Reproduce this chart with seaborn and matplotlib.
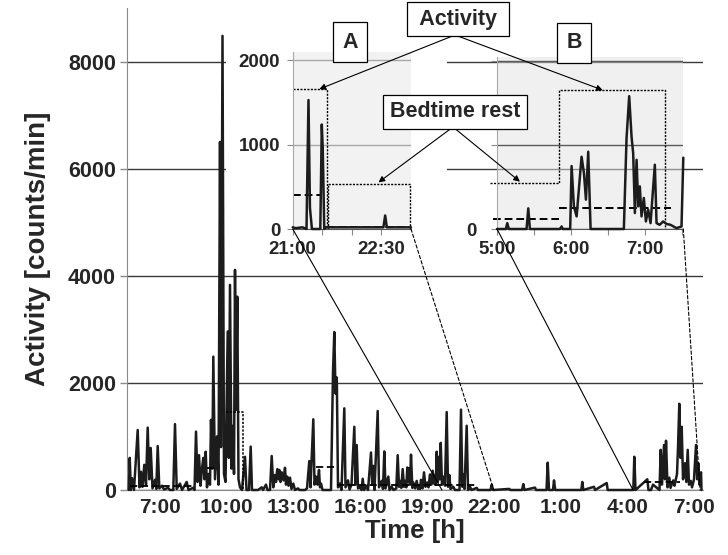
import numpy as np
import pandas as pd
import seaborn as sns
import matplotlib
matplotlib.use("Agg")
import matplotlib.pyplot as plt
from matplotlib.patches import ConnectionPatch, Rectangle

# ---------------- data ----------------
# main recording: time in hours after 7:00, activity in counts/min
main_t = [-1.40, -1.36, -1.31, -1.258, -1.169, -1.002, -0.921, -0.854, -0.787, -0.706, -0.629,
          -0.553, -0.481, -0.418, -0.337, -0.225, -0.166, -0.103, -0.031, 0.090, 0.180, 0.360,
          0.449, 0.598, 0.674, 0.751, 0.899, 0.989, 1.200, 1.281, 1.483, 1.551, 1.618, 1.685,
          1.753, 1.820, 1.888, 1.946, 2.000, 2.054, 2.112, 2.180, 2.247, 2.292, 2.351, 2.396,
          2.472, 2.562, 2.629, 2.697, 2.742, 2.809, 2.876, 2.944, 3.043, 3.092, 3.146, 3.213,
          3.281, 3.326, 3.371, 3.416, 3.474, 3.528, 3.596, 3.685, 3.820, 3.888, 4.000, 4.076,
          4.135, 4.404, 4.571, 4.629, 4.764, 4.831, 4.944, 5.020, 5.092, 5.169, 5.213, 5.272,
          5.317, 5.362, 5.416, 5.470, 5.551, 5.618, 5.663, 5.721, 5.775, 5.843, 5.910, 5.991,
          6.067, 6.202, 6.270, 6.517, 6.607, 6.710, 6.764, 6.890, 6.944, 7.011, 7.079, 7.146,
          7.191, 7.236, 7.303, 7.685, 7.775, 7.834, 7.888, 7.946, 8.000, 8.090, 8.157, 8.283,
          8.337, 8.449, 8.517, 8.607, 8.733, 8.787, 8.840, 8.899, 8.989, 9.056, 9.110, 9.169,
          9.290, 9.348, 9.483, 9.537, 9.587, 9.640, 9.784, 9.843, 9.964, 10.022, 10.081, 10.135,
          10.261, 10.315, 10.413, 10.494, 10.620, 10.683, 10.742, 10.787, 10.845, 10.908, 10.966,
          11.011, 11.070, 11.115, 11.160, 11.191, 11.236, 11.281, 11.339, 11.384, 11.461, 11.537,
          11.596, 11.640, 11.685, 11.730, 11.798, 11.865, 11.933, 12.013, 12.067, 12.135, 12.193,
          12.256, 12.315, 12.360, 12.396, 12.436, 12.485, 12.539, 12.575, 12.616, 12.674, 12.733,
          12.809, 12.885, 12.944, 13.002, 13.056, 13.182, 13.258, 13.461, 13.528, 13.587, 13.631,
          13.685, 13.784, 13.843, 13.933, 14.000, 14.234, 14.292, 14.854, 14.908, 14.966, 15.699,
          15.744, 16.270, 16.328, 16.382, 16.854, 16.899, 17.371, 17.425, 17.483, 17.663, 17.708,
          17.762, 18.935, 18.980, 19.025, 19.506, 19.551, 20.076, 20.121, 21.272, 21.317, 21.371,
          21.901, 21.955, 22.067, 22.157, 22.449, 22.503, 22.562, 22.652, 22.697, 22.742, 22.809,
          22.890, 22.944, 23.070, 23.124, 23.236, 23.281, 23.339, 23.393, 23.447, 23.506, 23.596,
          23.654, 23.717, 23.775, 23.852, 23.910, 24.000, 24.090, 24.144, 24.193, 24.247, 24.315,
          24.337]
main_v = [0, 600, 0, 220, 0, 1120, 50, 340, 60, 470, 100,
          1165, 200, 785, 30, 190, 20, 820, 30, 80, 10, 40,
          0, 0, 1230, 20, 120, 0, 150, 0, 40, 0, 1090, 150,
          650, 80, 400, 600, 200, 715, 50, 300, 100, 1310, 400, 2490,
          200, 1000, 100, 6500, 800, 8480, 300, 150, 2960, 600, 3830, 400,
          1200, 300, 4110, 1500, 3610, 200, 50, 0, 620, 0, 0, 810,
          0, 0, 50, 0, 100, 0, 0, 635, 50, 280, 150, 390,
          200, 375, 150, 330, 180, 415, 100, 250, 80, 230, 20, 120,
          0, 30, 0, 0, 30, 540, 50, 1320, 100, 250, 100, 375,
          50, 120, 0, 0, 2200, 2950, 1800, 2100, 50, 120, 0, 1525,
          50, 180, 10, 100, 1180, 100, 840, 30, 60, 0, 210, 0,
          80, 0, 700, 100, 450, 0, 1475, 50, 170, 20, 720, 30,
          250, 0, 60, 0, 30, 650, 60, 170, 40, 390, 60,
          170, 50, 420, 150, 400, 100, 660, 40, 140, 30, 170,
          20, 70, 20, 190, 30, 330, 60, 140, 50, 290, 100,
          360, 120, 280, 100, 715, 150, 620, 200, 880, 100, 250,
          80, 1455, 60, 280, 20, 60, 0, 0, 1500, 60, 290,
          20, 1200, 0, 60, 0, 40, 0, 0, 100, 0, 20,
          0, 0, 110, 0, 45, 0, 0, 510, 0, 0, 180,
          0, 0, 150, 0, 60, 0, 130, 0, 0, 620, 0,
          200, 0, 0, 100, 0, 750, 100, 840, 200, 920, 50,
          230, 40, 180, 80, 300, 800, 1610, 600, 1180, 200, 500,
          150, 750, 100, 170, 50, 200, 840, 200, 500, 100, 330,
          0]

main_xticks = [0, 3, 6, 9, 12, 15, 18, 21, 24]
main_xlabels = ["7:00", "10:00", "13:00", "16:00", "19:00", "22:00", "1:00", "4:00", "7:00"]
main_yticks = [0, 2000, 4000, 6000, 8000]

# inset A (21:00 - 23:00), clock hours
a_t = [21.0, 21.05, 21.1667, 21.2333, 21.2667, 21.2917, 21.325, 21.4667, 21.4917, 21.5083,
       21.5333, 21.5667, 21.8333, 22.1667, 22.5333, 22.5633, 22.5917, 22.8333, 23.0]
a_v = [20, 10, 20, 0, 1530, 250, 0, 0, 1240, 950, 0, 20, 20, 20, 20, 160, 20, 20, 20]
a_xticks = [21.0, 21.5, 22.0, 22.5]
a_xlabels = ["21:00", "", "", "22:30"]

# inset B (5:00 - 7:30), clock hours
b_t = [5.0, 5.12, 5.139, 5.16, 5.40, 5.423, 5.445, 5.85, 5.874, 5.89, 5.99, 6.009, 6.04, 6.077,
       6.144, 6.176, 6.203, 6.234, 6.266, 6.716, 6.752, 6.788, 6.82, 6.842, 6.865, 6.888, 6.91,
       6.932, 6.955, 6.986, 7.014, 7.045, 7.077, 7.135, 7.158, 7.2, 7.248, 7.293, 7.347, 7.428,
       7.496, 7.52]
b_v = [0, 0, 70, 0, 0, 246, 0, 0, 30, 0, 0, 750, 270, 150,
       861, 667, 350, 921, 0, 0, 1079, 1583, 1100, 903, 190, 825, 270,
       508, 150, 370, 90, 230, 70, 766, 70, 50, 90, 60, 50, 10,
       30, 850]
b_xticks = [5.0, 5.5, 6.0, 6.5, 7.0, 7.5]
b_xlabels = ["5:00", "", "6:00", "", "7:00", ""]

# bout / mean-level overlays (start, end, level)
main_means = [(-1.35, 1.44, 75), (2.11, 2.61, 410), (7.01, 7.95, 425), (7.95, 14.16, 100),
              (21.75, 23.37, 150)]
main_bout = (2.95, 3.73, 1450)
a_active_level, a_active_end = 1660, 21.575
a_rest_start, a_rest_end, a_rest_level = 21.603, 22.99, 533
a_means = [(21.0, 21.463, 400), (21.575, 22.99, 25)]
b_rest_start, b_switch, b_active_end = 4.905, 5.842, 7.27
b_rest_level, b_active_level = 544, 1655
b_means = [(4.94, 5.842, 119), (5.842, 7.36, 246)]

# ---------------- style ----------------
sns.set_style("white")
plt.rcParams['font.family'] = ['Liberation Sans', 'DejaVu Sans']
plt.rcParams['font.weight'] = 'bold'

W, H = 728, 555
fig = plt.figure(figsize=(W / 100, H / 100), dpi=100)


def fx(px):
    return px / W


def fy(py):
    return 1 - py / H


LINE = '#1c1c1c'
GRID = '#3a3a3a'
SPINE = '#8a8a8a'

# ---------------- main axes ----------------
ax = fig.add_axes([fx(127), fy(490), (703 - 127) / W, (490 - 8) / H])
df_main = pd.DataFrame({"t": main_t, "v": main_v})
sns.lineplot(data=df_main, x="t", y="v", ax=ax, sort=False, estimator=None,
             color=LINE, lw=1.8, clip_on=False, zorder=3)
ax.set_xlim(-1.483, 24.404)
ax.set_ylim(0, 9000)
ax.set_xticks(main_xticks)
ax.set_xticklabels(main_xlabels, fontsize=15, fontweight='bold')
ax.set_yticks(main_yticks)
ax.set_yticklabels([str(v) for v in main_yticks], fontsize=15.5, fontweight='bold')
ax.tick_params(axis='y', length=5, color=SPINE, width=1, pad=3, left=True)
ax.tick_params(axis='x', length=0, pad=6)
ax.yaxis.grid(True, color=GRID, lw=1.0)
ax.set_axisbelow(True)
for s in ['top', 'right']:
    ax.spines[s].set_visible(False)
ax.spines['left'].set_color(SPINE)
ax.spines['bottom'].set_color(SPINE)
ax.set_xlabel("Time [h]", fontsize=18.5, fontweight='bold', labelpad=1)
ax.set_ylabel("Activity [counts/min]", fontsize=20, fontweight='bold', labelpad=12)

for (s, e, lv) in main_means:
    ax.plot([s, e], [lv, lv], color='black', lw=1.3, ls=(0, (4, 2)), zorder=4)
bs, be, bl = main_bout
ax.plot([bs, be, be], [bl, bl, 0], color='black', lw=1.1, ls=(0, (1.5, 1)), zorder=4)

# white area behind inset A (hides the main grid there)
ax.add_patch(Rectangle((2.97, 4400), 9.93, 4700, facecolor='white', edgecolor='none', zorder=1))

# ---------------- inset A ----------------
axa = fig.add_axes([fx(292.7), fy(229), 118.3 / W, 177 / H], facecolor='#f2f2f2', zorder=5)
sns.lineplot(x=a_t, y=a_v, ax=axa, sort=False, estimator=None, color=LINE, lw=1.8,
             clip_on=False, zorder=3)
axa.set_xlim(21.0, 23.0)
axa.set_ylim(0, 2100)
axa.set_yticks([0, 1000, 2000])
axa.set_yticklabels(["0", "1000", "2000"], fontsize=13.5, fontweight='bold')
axa.set_xticks(a_xticks)
axa.set_xticklabels(a_xlabels, fontsize=13.5, fontweight='bold')
axa.tick_params(axis='both', length=4, color=SPINE, pad=5, left=True, bottom=True)
axa.yaxis.grid(True, color='#a8a8a8', lw=1.0)
axa.set_axisbelow(True)
for s in ['top', 'right']:
    axa.spines[s].set_visible(False)
axa.spines['left'].set_color('#a8a8a8')
axa.spines['bottom'].set_color('#555555')
axa.plot([21.0, a_active_end, a_active_end], [a_active_level, a_active_level, 0],
         color='black', lw=1.0, ls=(0, (1.5, 1)), clip_on=False)
axa.plot([a_rest_start, a_rest_start, a_rest_end, a_rest_end],
         [0, a_rest_level, a_rest_level, 0], color='black', lw=1.0, ls=(0, (1.5, 1)),
         clip_on=False)
for (s, e, lv) in a_means:
    axa.plot([s, e], [lv, lv], color='black', lw=1.4, ls=(0, (4, 2)), clip_on=False)

# ---------------- inset B ----------------
axb = fig.add_axes([fx(497), fy(229), 186.3 / W, 172 / H], zorder=5)
axb.patch.set_facecolor('#e2e2e2')
axb.patch.set_alpha(0.5)
sns.lineplot(x=b_t, y=b_v, ax=axb, sort=False, estimator=None, color=LINE, lw=1.8,
             clip_on=False, zorder=3)
axb.set_xlim(5.0, 7.52)
axb.set_ylim(0, 2050)
axb.set_yticks([0, 1000, 2000])
axb.set_yticklabels(["0", "", ""], fontsize=13.5, fontweight='bold')
axb.set_xticks(b_xticks)
axb.set_xticklabels(b_xlabels, fontsize=13.5, fontweight='bold')
axb.tick_params(axis='both', length=4, color=SPINE, pad=11, left=True, bottom=True)
axb.tick_params(axis='x', pad=5)
axb.yaxis.grid(True, color='#5a5a5a', lw=1.0)
axb.set_axisbelow(True)
for s in ['top', 'right']:
    axb.spines[s].set_visible(False)
axb.spines['left'].set_color('#a8a8a8')
axb.spines['bottom'].set_color('#555555')
axb.plot([b_rest_start, b_switch, b_switch, b_active_end, b_active_end],
         [b_rest_level, b_rest_level, b_active_level, b_active_level, 0],
         color='black', lw=1.0, ls=(0, (1.5, 1)), clip_on=False)
for (s, e, lv) in b_means:
    axb.plot([s, e], [lv, lv], color='black', lw=1.4, ls=(0, (4, 2)), clip_on=False)

# ---------------- connectors between insets and main timeline ----------------
conns = [
    (axa, (21.0, 0), (12.67, 0), '-'),
    (axa, (23.0, 0), (15.0, 0), (0, (3, 2))),
    (axb, (5.0, 0), (21.26, 0), '-'),
    (axb, (7.52, 0), (24.27, 0), (0, (3, 2))),
]
for (iax, pa, pb, ls) in conns:
    cp = ConnectionPatch(xyA=pa, coordsA=iax.transData, xyB=pb, coordsB=ax.transData,
                         color='black', lw=0.8, ls=ls, zorder=6)
    fig.add_artist(cp)

# ---------------- labels & arrows ----------------
box = dict(boxstyle='square,pad=0.3', facecolor='white', edgecolor='black', lw=0.9)
lbox = dict(boxstyle='square,pad=0.45', facecolor='white', edgecolor='black', lw=0.9)
fig.text(fx(350), fy(42), "A", ha='center', va='center', fontsize=15.5, fontweight='bold',
         bbox=lbox, zorder=8)
fig.text(fx(574), fy(43), "B", ha='center', va='center', fontsize=15.5, fontweight='bold',
         bbox=lbox, zorder=8)
fig.text(fx(458), fy(19), " Activity ", ha='center', va='center', fontsize=15.5,
         fontweight='bold', bbox=box, zorder=8)
fig.text(fx(455), fy(112), "Bedtime rest", ha='center', va='center', fontsize=15.5,
         fontweight='bold', bbox=box, zorder=8)

arrows = [
    ((455, 35), axa, (21.45, a_active_level)),
    ((455, 35), axb, (6.43, b_active_level)),
    ((453, 127), axa, (22.45, a_rest_level + 20)),
    ((453, 127), axb, (5.31, b_rest_level + 20)),
]
for (start, iax, end) in arrows:
    cp = ConnectionPatch(xyA=(fx(start[0]), fy(start[1])), coordsA=fig.transFigure,
                         xyB=end, coordsB=iax.transData, arrowstyle='-|>',
                         mutation_scale=9, color='black', lw=0.8, zorder=7)
    fig.add_artist(cp)

fig.savefig("out.png", dpi=100)
